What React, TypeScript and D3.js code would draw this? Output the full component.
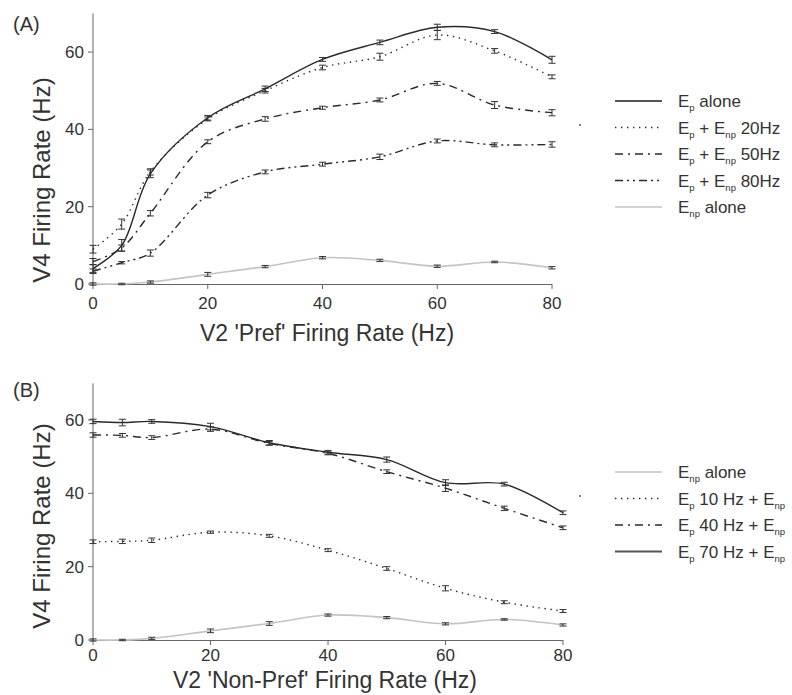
import React from "react";
import * as d3 from "d3";

const xVals = [0, 5, 10, 20, 30, 40, 50, 60, 70, 80];
const xTicks = [0, 20, 40, 60, 80];
const yTicks = [0, 20, 40, 60];

// Panel A
const aEpAlone = [4, 10, 28.5, 43, 50.5, 58.1, 62.5, 66.4, 65.3, 58];
const aEp20 = [9, 15.5, 29, 42.7, 50, 56, 58.8, 64.4, 60.3, 53.6];
const aEp50 = [5.8, 9.3, 18.3, 36.8, 42.7, 45.6, 47.6, 51.9, 46.3, 44.3];
const aEp80 = [3.3, 5.5, 8, 23, 29, 31, 32.9, 37, 36, 36.1];
const aEnp = [0, 0, 0.5, 2.5, 4.5, 6.8, 6.1, 4.6, 5.7, 4.2];
const aErrEp = [1, 1.5, 1, 0.6, 0.7, 0.5, 0.6, 0.8, 0.5, 0.9];
const aErr20 = [1, 1.3, 0.8, 0.5, 0.6, 0.6, 0.9, 1.2, 0.6, 0.5];
const aErr50 = [0.8, 0.8, 0.7, 0.5, 0.6, 0.4, 0.5, 0.5, 0.9, 0.8];
const aErr80 = [0.6, 0.3, 0.8, 0.7, 0.5, 0.5, 0.7, 0.5, 0.5, 0.7];
const aErrEnp = [0.3, 0.2, 0.3, 0.5, 0.3, 0.3, 0.3, 0.3, 0.2, 0.3];

// Panel B
const bEnp = [0, 0, 0.45, 2.5, 4.5, 6.8, 6.1, 4.4, 5.6, 4.1];
const bEp10 = [26.8, 26.9, 27.2, 29.4, 28.4, 24.5, 19.5, 14.1, 10.3, 7.9];
const bEp40 = [55.9, 55.8, 55.2, 57.5, 53.6, 50.9, 45.9, 41.4, 35.9, 30.6];
const bEp70 = [59.6, 59.3, 59.6, 58.2, 53.8, 51.2, 49.2, 42.9, 42.5, 34.7];
const bErrEnp = [0.3, 0.2, 0.3, 0.5, 0.5, 0.3, 0.3, 0.3, 0.2, 0.3];
const bErr10 = [0.5, 0.6, 0.6, 0.3, 0.4, 0.4, 0.5, 0.7, 0.4, 0.4];
const bErr40 = [0.6, 0.5, 0.5, 0.6, 0.5, 0.4, 0.5, 0.9, 0.6, 0.5];
const bErr70 = [0.6, 0.9, 0.5, 0.9, 0.6, 0.5, 0.7, 0.8, 0.5, 0.5];

const FONT = "'Liberation Sans', Arial, Helvetica, sans-serif";
const TXT = "#333";

type Style = { stroke: string; width: number; dash?: string };
const S_SOLID: Style = { stroke: "#2a2a2a", width: 1.4 };
const S_DOT: Style = { stroke: "#2a2a2a", width: 1.4, dash: "1.4,4.6" };
const S_DASHDOT: Style = { stroke: "#2a2a2a", width: 1.4, dash: "8,5,2,5" };
const S_DASHDOTDOT: Style = { stroke: "#2a2a2a", width: 1.4, dash: "8,4,2,4,2,4" };
const S_LIGHT: Style = { stroke: "#c4c4c4", width: 1.6 };

type Series = { vals: number[]; err: number[]; style: Style };

type LegendItem = { parts: { t: string; sub?: boolean }[]; style: Style };

const legendA: LegendItem[] = [
  { parts: [{ t: "E" }, { t: "p", sub: true }, { t: " alone" }], style: { stroke: "#555", width: 2 } },
  { parts: [{ t: "E" }, { t: "p", sub: true }, { t: " + E" }, { t: "np", sub: true }, { t: " 20Hz" }], style: S_DOT },
  { parts: [{ t: "E" }, { t: "p", sub: true }, { t: " + E" }, { t: "np", sub: true }, { t: " 50Hz" }], style: S_DASHDOT },
  { parts: [{ t: "E" }, { t: "p", sub: true }, { t: " + E" }, { t: "np", sub: true }, { t: " 80Hz" }], style: S_DASHDOTDOT },
  { parts: [{ t: "E" }, { t: "np", sub: true }, { t: " alone" }], style: S_LIGHT },
];
const legendB: LegendItem[] = [
  { parts: [{ t: "E" }, { t: "np", sub: true }, { t: " alone" }], style: S_LIGHT },
  { parts: [{ t: "E" }, { t: "p", sub: true }, { t: " 10 Hz + E" }, { t: "np", sub: true }], style: S_DOT },
  { parts: [{ t: "E" }, { t: "p", sub: true }, { t: " 40 Hz + E" }, { t: "np", sub: true }], style: S_DASHDOT },
  { parts: [{ t: "E" }, { t: "p", sub: true }, { t: " 70 Hz + E" }, { t: "np", sub: true }], style: { stroke: "#555", width: 2.2 } },
];

function Legend({ items, x, y }: { items: LegendItem[]; x: number; y: number }) {
  return (
    <g>
      <circle cx={x - 35} cy={y + 24} r={1} fill="#555" />
      {items.map((it, i) => {
        const yy = y + i * 26.5;
        return (
          <g key={i}>
            <line x1={x} x2={x + 47} y1={yy} y2={yy} stroke={it.style.stroke} strokeWidth={it.style.width} strokeDasharray={it.style.dash} />
            <text x={x + 63} y={yy + 6} fontSize={17} fontFamily={FONT} fill={TXT}>
              {it.parts.map((p, j) => (
                <tspan key={j} fontSize={p.sub ? 9.5 : 17} dy={p.sub ? 4 : j > 0 && it.parts[j - 1].sub ? -4 : 0}>
                  {p.t}
                </tspan>
              ))}
            </text>
          </g>
        );
      })}
    </g>
  );
}

function Panel({
  series, x0, x1, yBot, yTop, label, labelY, xTitle, xTitleX, xTitleY, yTitleY, tickDy,
}: {
  series: Series[]; x0: number; x1: number; yBot: number; yTop: number; label: string; labelY: number;
  xTitle: string; xTitleX: number; xTitleY: number; yTitleY: number; tickDy: number;
}) {
  const x = d3.scaleLinear().domain([0, 80]).range([x0, x1]);
  const y = d3.scaleLinear().domain([0, 70]).range([yBot, yTop]);
  const line = d3
    .line<number>()
    .x((_, i) => x(xVals[i]))
    .y((d) => y(d))
    .curve(d3.curveCatmullRom.alpha(0.5));
  return (
    <g>
      <text x={13} y={labelY} fontSize={20} fontFamily={FONT} fill={TXT}>{label}</text>
      <line x1={x0} x2={x0} y1={yTop} y2={yBot} stroke="#666" strokeWidth={1} />
      <line x1={x0} x2={x(80)} y1={yBot + 0.5} y2={yBot + 0.5} stroke="#666" strokeWidth={1.2} />
      {yTicks.map((t) => (
        <g key={"y" + t}>
          <line x1={x0 - 5} x2={x0} y1={y(t)} y2={y(t)} stroke="#666" strokeWidth={1} />
          <text x={x0 - 9} y={y(t) + 6} textAnchor="end" fontSize={17} fontFamily={FONT} fill={TXT}>{t}</text>
        </g>
      ))}
      {xTicks.map((t) => (
        <g key={"x" + t}>
          <line x1={x(t)} x2={x(t)} y1={yBot} y2={yBot + 5} stroke="#666" strokeWidth={1} />
          <text x={x(t)} y={yBot + tickDy} textAnchor="middle" fontSize={17} fontFamily={FONT} fill={TXT}>{t}</text>
        </g>
      ))}
      <text x={xTitleX} y={xTitleY} textAnchor="middle" fontSize={23} fontFamily={FONT} fill={TXT}>{xTitle}</text>
      <text transform={`translate(50,${yTitleY}) rotate(-90)`} textAnchor="middle" fontSize={24} fontFamily={FONT} fill={TXT}>
        V4 Firing Rate (Hz)
      </text>
      {series.map((s, si) => (
        <g key={si}>
          <path d={line(s.vals) || ""} fill="none" stroke={s.style.stroke} strokeWidth={s.style.width} strokeDasharray={s.style.dash} />
          {s.vals.map((v, i) => {
            const cx = x(xVals[i]);
            const e = s.err[i];
            const yt = y(v + e);
            const yb = y(v - e);
            return (
              <g key={i} stroke="#333" strokeWidth={1}>
                <line x1={cx} x2={cx} y1={yt} y2={yb} />
                <line x1={cx - 3.5} x2={cx + 3.5} y1={yt} y2={yt} />
                <line x1={cx - 3.5} x2={cx + 3.5} y1={yb} y2={yb} />
              </g>
            );
          })}
        </g>
      ))}
    </g>
  );
}

export default function App() {
  const seriesA: Series[] = [
    { vals: aEnp, err: aErrEnp, style: S_LIGHT },
    { vals: aEp80, err: aErr80, style: S_DASHDOTDOT },
    { vals: aEp50, err: aErr50, style: S_DASHDOT },
    { vals: aEp20, err: aErr20, style: S_DOT },
    { vals: aEpAlone, err: aErrEp, style: S_SOLID },
  ];
  const seriesB: Series[] = [
    { vals: bEnp, err: bErrEnp, style: S_LIGHT },
    { vals: bEp10, err: bErr10, style: S_DOT },
    { vals: bEp40, err: bErr40, style: S_DASHDOT },
    { vals: bEp70, err: bErr70, style: S_SOLID },
  ];
  return (
    <svg width={792} height={695} style={{ position: "absolute", left: 0, top: 0, background: "#fff" }}>
      <rect width={792} height={695} fill="#fff" />
      <Panel series={seriesA} x0={93} x1={552} yBot={284} yTop={13.4} label="(A)" labelY={31}
        xTitle="V2 'Pref' Firing Rate (Hz)" xTitleX={327} xTitleY={341} yTitleY={180} tickDy={25} />
      <Panel series={seriesB} x0={93} x1={563} yBot={640} yTop={383.3} label="(B)" labelY={397}
        xTitle="V2 'Non-Pref' Firing Rate (Hz)" xTitleX={325} xTitleY={688} yTitleY={526} tickDy={21} />
      <Legend items={legendA} x={615} y={101} />
      <Legend items={legendB} x={615} y={472} />
    </svg>
  );
}
